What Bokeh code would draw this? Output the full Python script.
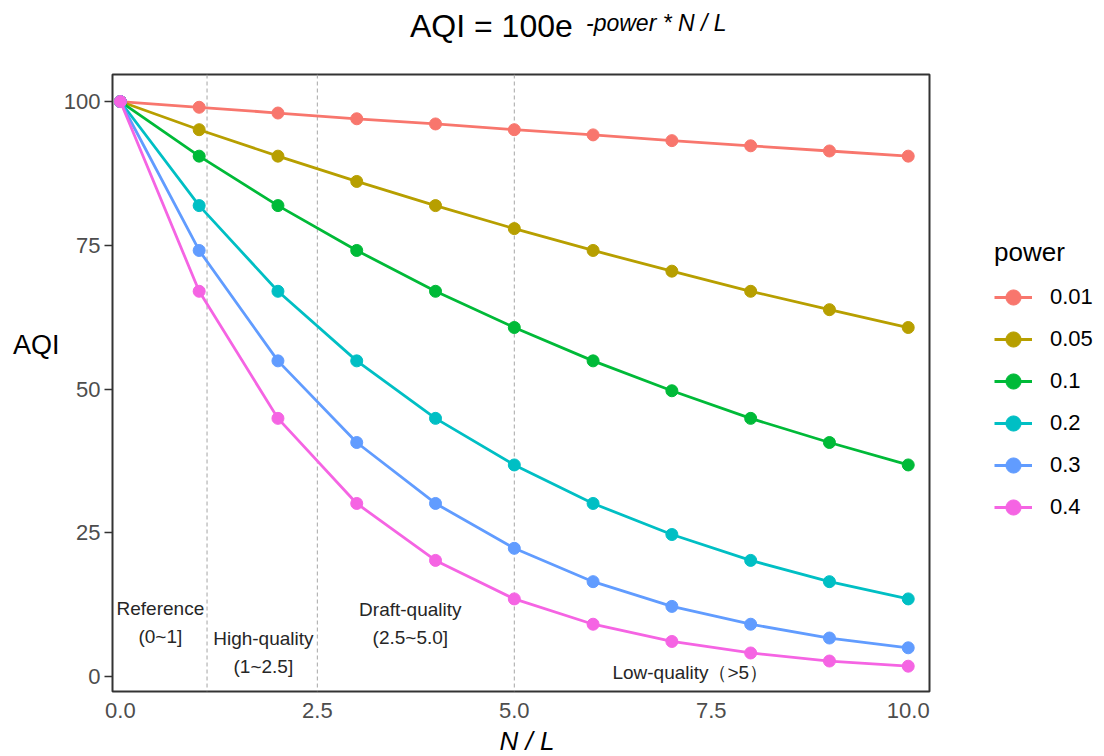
from bokeh.plotting import figure
from bokeh.layouts import column, row
from bokeh.models import (Span, FixedTicker, PrintfTickFormatter, ColumnDataSource,
                          Range1d, Legend, LegendItem, Div)
from bokeh.core.properties import value
from bokeh.embed import file_html
from bokeh.resources import INLINE

# ---------------- data ----------------
n_over_l = [0, 1, 2, 3, 4, 5, 6, 7, 8, 9, 10]
powers = ["0.01", "0.05", "0.1", "0.2", "0.3", "0.4"]
aqi_p001 = [100, 99.0, 98.0, 97.0, 96.1, 95.1, 94.2, 93.2, 92.3, 91.4, 90.5]
aqi_p005 = [100, 95.1, 90.5, 86.1, 81.9, 77.9, 74.1, 70.5, 67.0, 63.8, 60.7]
aqi_p01 = [100, 90.5, 81.9, 74.1, 67.0, 60.7, 54.9, 49.7, 44.9, 40.7, 36.8]
aqi_p02 = [100, 81.9, 67.0, 54.9, 44.9, 36.8, 30.1, 24.7, 20.2, 16.5, 13.5]
aqi_p03 = [100, 74.1, 54.9, 40.7, 30.1, 22.3, 16.5, 12.2, 9.1, 6.7, 5.0]
aqi_p04 = [100, 67.0, 44.9, 30.1, 20.2, 13.5, 9.1, 6.1, 4.1, 2.7, 1.8]
series = [aqi_p001, aqi_p005, aqi_p01, aqi_p02, aqi_p03, aqi_p04]

boundaries = [1.1, 2.5, 5.0]
region_labels = ["Reference\n(0~1]", "High-quality\n(1~2.5]",
                 "Draft-quality\n(2.5~5.0]", "Low-quality\uff08>5\uff09"]
x_ticks = [0, 2.5, 5, 7.5, 10]
y_ticks = [0, 25, 50, 75, 100]

# ---------------- style ----------------
colors = ["#F8766D", "#B79F00", "#00BA38", "#00BFC4", "#619CFF", "#F564E3"]
FONT = "Liberation Sans"
CSS_FONT = "font-family:'Liberation Sans',Arial,sans-serif;color:#000;"

# page-pixel -> data helpers (for annotation placement)
def dx(px):
    return (px - 120) / 78.8

def dy(py):
    return (676 - py) / 5.75

W, H = 1104, 756
TITLE_H = 48
XLAB_H = 28
YLAB_W = 60
LEG_W = 171
BODY_H = H - TITLE_H - XLAB_H          # 680 -> plot spans page y 48..728
MAIN_W = W - YLAB_W - LEG_W
FRAME_L, FRAME_R, FRAME_T, FRAME_B = 112, 929, 74, 691

title_html = (
    '<div style="position:relative;width:%dpx;height:%dpx;%s">'
    '<span style="position:absolute;left:410px;top:10px;font-size:32px;'
    'line-height:32px;white-space:nowrap;">AQI = 100e</span>'
    '<span style="position:absolute;left:586px;top:12px;font-size:23px;'
    'line-height:23px;font-style:italic;white-space:nowrap;">-power * N / L</span>'
    '</div>' % (W, TITLE_H, CSS_FONT))
title = Div(text=title_html, width=W, height=TITLE_H, margin=0)

ylab_html = (
    '<div style="position:relative;width:%dpx;height:%dpx;%s">'
    '<span style="position:absolute;left:13px;top:%dpx;font-size:27px;'
    'line-height:27px;white-space:nowrap;">AQI</span></div>'
    % (YLAB_W, BODY_H, CSS_FONT, 332 - TITLE_H))
ylab = Div(text=ylab_html, width=YLAB_W, height=BODY_H, margin=0)

xlab_html = (
    '<div style="position:relative;width:%dpx;height:%dpx;%s">'
    '<div style="position:absolute;left:0px;top:0px;width:1054px;text-align:center;'
    'font-size:26px;line-height:26px;font-style:italic;white-space:nowrap;">N / L</div>'
    '</div>' % (W, XLAB_H, CSS_FONT))
xlab = Div(text=xlab_html, width=W, height=XLAB_H, margin=0)

# ---------------- main plot ----------------
p = figure(width=MAIN_W, height=BODY_H,
           x_range=Range1d(-0.10, 10.27), y_range=Range1d(-2.6, 104.7),
           output_backend="svg", toolbar_location=None,
           min_border_left=FRAME_L - YLAB_W, min_border_right=W - LEG_W - FRAME_R,
           min_border_top=FRAME_T - TITLE_H,
           min_border_bottom=(TITLE_H + BODY_H) - FRAME_B)
p.margin = 0
p.grid.visible = False
p.outline_line_color = "#333333"
p.outline_line_width = 2
p.background_fill_color = "white"
p.border_fill_color = "white"

for b in boundaries:
    p.add_layout(Span(location=b, dimension="height", line_color="#A6A6A6",
                      line_width=1, line_dash="4 3", level="underlay"))

for vals, c in zip(series, colors):
    p.line(n_over_l, vals, line_color=c, line_width=2.8)
    p.scatter(n_over_l, vals, size=12, fill_color=c, line_color=c)

src = ColumnDataSource(dict(
    x=[dx(160), dx(263), dx(410), dx(690)],
    y=[dy(622), dy(652), dy(623), dy(672)],
    text=region_labels))
p.text(x="x", y="y", text="text", source=src, text_align="center",
       text_baseline="middle", text_font=value(FONT),
       text_font_size="19px", text_color="#262626", text_line_height=1.3)

p.xaxis.ticker = FixedTicker(ticks=x_ticks)
p.xaxis.formatter = PrintfTickFormatter(format="%.1f")
p.yaxis.ticker = FixedTicker(ticks=y_ticks)
for ax in (p.xaxis[0], p.yaxis[0]):
    ax.axis_line_color = None
    ax.minor_tick_line_color = None
    ax.major_label_text_font = FONT
    ax.major_label_text_font_size = "22px"
    ax.major_label_text_color = "#4D4D4D"
p.xaxis.major_tick_line_color = None
p.xaxis.major_tick_out = 0
p.xaxis.major_tick_in = 0
p.xaxis.major_label_standoff = 11
p.yaxis.major_tick_line_color = "#333333"
p.yaxis.major_tick_line_width = 1.5
p.yaxis.major_tick_out = 8
p.yaxis.major_tick_in = 0
p.yaxis.major_label_standoff = 4

# ---------------- legend panel ----------------
pl = figure(width=LEG_W, height=BODY_H, x_range=Range1d(100, 101),
            y_range=Range1d(1000, 1001), output_backend="svg",
            toolbar_location=None, min_border=0)
pl.margin = 0
pl.axis.visible = False
pl.grid.visible = False
pl.outline_line_color = None
items = []
for lab, vals, c in zip(powers, series, colors):
    r1 = pl.line(n_over_l, vals, line_color=c, line_width=2.8)
    r2 = pl.scatter(n_over_l, vals, size=12, fill_color=c, line_color=c)
    items.append(LegendItem(label=lab, renderers=[r1, r2]))

leg_left = 994 - (W - LEG_W)
leg_bottom = 163
lg = Legend(items=items, location=(leg_left, leg_bottom))
lg.title = "power"
lg.title_text_font = FONT
lg.title_text_font_size = "26px"
lg.title_text_font_style = "normal"
lg.title_text_color = "black"
lg.title_standoff = 8
lg.label_text_font = FONT
lg.label_text_font_size = "22px"
lg.label_text_color = "black"
lg.glyph_width = 38
lg.glyph_height = 42
lg.label_height = 42
lg.label_standoff = 18
lg.spacing = 0
lg.padding = 0
lg.margin = 0
lg.border_line_color = None
lg.background_fill_alpha = 0
pl.add_layout(lg)

layout = column(title, row(ylab, p, pl, spacing=0), xlab, spacing=0)
open("out.html", "w").write(file_html(layout, INLINE))
